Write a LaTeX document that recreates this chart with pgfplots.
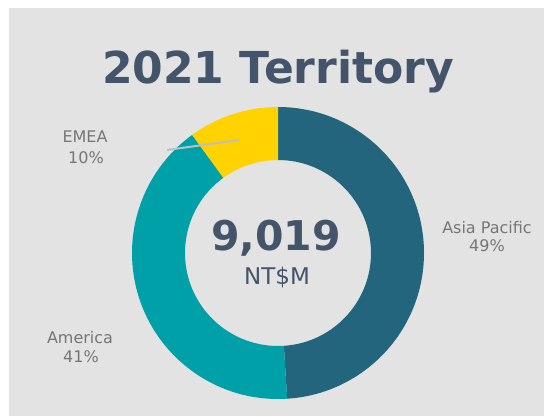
\documentclass[border=0pt]{standalone}
\usepackage{pgfplots}
\pgfplotsset{compat=1.18}
\usepackage{pgfplotstable}
\usepackage{fontspec}
\setmainfont{DejaVu Sans}
\definecolor{bgc}{HTML}{E3E3E3}
\definecolor{asiac}{HTML}{22657D}
\definecolor{amerc}{HTML}{00A0A8}
\definecolor{emeac}{HTML}{FFD200}
\definecolor{titlec}{HTML}{44546A}
\definecolor{labc}{HTML}{767676}
\definecolor{leadc}{HTML}{BFBFBF}
\pgfplotstableread{
region pct
AsiaPacific 49
America 41
EMEA 10
}\data
\pgfplotstablegetelem{0}{pct}\of\data \let\pA\pgfplotsretval
\pgfplotstablegetelem{1}{pct}\of\data \let\pB\pgfplotsretval
\pgfplotstablegetelem{2}{pct}\of\data \let\pC\pgfplotsretval
\pgfmathsetmacro\aO{90}
\pgfmathsetmacro\aA{90-3.6*\pA}
\pgfmathsetmacro\aB{\aA-3.6*\pB}
\pgfmathsetmacro\aC{\aB-3.6*\pC}
\def\Ro{146}
\def\Ri{93}
\begin{document}
\begin{tikzpicture}
\begin{axis}[hide axis, x=1pt, y=1pt, xmin=0, xmax=544, ymin=0, ymax=416, clip=false, scale only axis]
% background
\fill[white] (axis cs:0,0) rectangle (axis cs:544,416);
\fill[bgc] (axis cs:9,0) rectangle (axis cs:544,408);
% donut sectors
\fill[asiac] (axis cs:278,163) ++(\aO:\Ro pt) arc[start angle=\aO, end angle=\aA, radius=\Ro pt] -- ++(\aA+180:\Ro pt-\Ri pt) arc[start angle=\aA, end angle=\aO, radius=\Ri pt] -- cycle;
\fill[amerc] (axis cs:278,163) ++(\aA:\Ro pt) arc[start angle=\aA, end angle=\aB, radius=\Ro pt] -- ++(\aB+180:\Ro pt-\Ri pt) arc[start angle=\aB, end angle=\aA, radius=\Ri pt] -- cycle;
\fill[emeac] (axis cs:278,163) ++(\aB:\Ro pt) arc[start angle=\aB, end angle=\aC, radius=\Ro pt] -- ++(\aC+180:\Ro pt-\Ri pt) arc[start angle=\aC, end angle=\aB, radius=\Ri pt] -- cycle;
% leader line
\draw[leadc, line width=2pt] (axis cs:167,266) -- (axis cs:239,276);
% title
\node[anchor=base, text=titlec, font=\fontsize{44}{50}\selectfont\bfseries] at (axis cs:278,332) {2021 Territory};
% centre
\node[anchor=base, text=titlec, font=\fontsize{41}{48}\selectfont\bfseries] at (axis cs:276,166) {9,019};
\node[anchor=base, text=titlec, font=\fontsize{23}{28}\selectfont] at (axis cs:277,132) {NT\$M};
% labels
\node[anchor=base, text=labc, font=\fontsize{16}{19}\selectfont] at (axis cs:85,273) {EMEA};
\node[anchor=base, text=labc, font=\fontsize{16}{19}\selectfont] at (axis cs:86,252) {10\%};
\node[anchor=base, text=labc, font=\fontsize{16}{19}\selectfont] at (axis cs:80,73) {America};
\node[anchor=base, text=labc, font=\fontsize{16}{19}\selectfont] at (axis cs:81,54) {41\%};
\node[anchor=base, text=labc, font=\fontsize{16}{19}\selectfont] at (axis cs:487,183) {Asia Pacific};
\node[anchor=base, text=labc, font=\fontsize{16}{19}\selectfont] at (axis cs:487,165) {49\%};
\end{axis}
\end{tikzpicture}
\end{document}
